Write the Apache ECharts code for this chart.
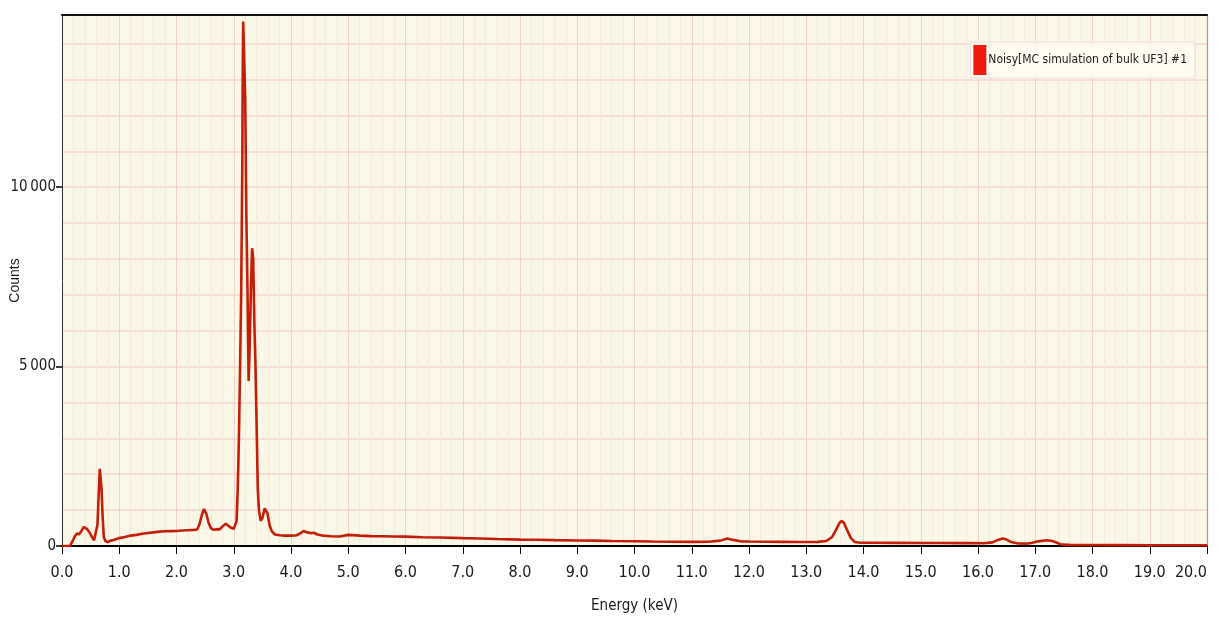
<!DOCTYPE html>
<html>
<head>
<meta charset="utf-8">
<script src="https://cdn.jsdelivr.net/npm/echarts@6/dist/echarts.min.js"></script>
<style>
html,body{margin:0;padding:0;background:#ffffff;}
#chart{width:1219px;height:619px;}
</style>
</head>
<body>
<div id="chart"></div>
<script>
// ---- data ----
const seriesName = 'Noisy[MC simulation of bulk UF3] #1';
const xTitle = 'Energy (keV)';
const yTitle = 'Counts';
const yLabelTicks = [0, 5000, 10000];
const yLabelText = ['0', '5\u2009000', '10\u2009000'];

const energy = [
  0.00,0.10,0.14,0.18,0.22,0.26,0.30,0.34,0.38,0.40,0.44,0.48,0.52,0.56,0.59,0.62,0.64,0.66,0.67,0.69,
  0.71,0.73,0.76,0.80,0.85,0.90,1.00,1.10,1.20,1.30,1.40,1.50,1.60,1.70,1.80,1.90,2.00,2.10,2.20,2.30,
  2.36,2.40,2.44,2.48,2.52,2.56,2.60,2.65,2.70,2.75,2.80,2.86,2.90,2.95,3.00,3.03,3.05,3.07,3.09,3.11,
  3.13,3.14,3.15,3.155,3.165,3.18,3.20,3.22,3.24,3.25,3.26,3.28,3.30,3.32,3.34,3.36,3.38,3.40,3.42,3.44,
  3.47,3.50,3.54,3.56,3.59,3.63,3.67,3.72,3.80,3.90,4.00,4.10,4.16,4.22,4.28,4.34,4.40,4.46,4.55,4.70,
  4.85,5.00,5.20,5.40,5.60,5.80,6.00,6.30,6.60,7.00,7.30,7.60,8.00,8.30,8.60,9.00,9.30,9.60,10.00,10.30,
  10.60,11.00,11.30,11.50,11.62,11.72,11.85,12.00,12.30,12.60,12.90,13.20,13.35,13.45,13.52,13.58,13.62,13.66,13.72,13.78,
  13.85,13.95,14.20,14.60,15.00,15.40,15.80,16.10,16.25,16.35,16.43,16.50,16.58,16.70,16.85,16.95,17.05,17.20,17.30,17.38,
  17.45,17.60,18.00,18.50,19.00,19.50,20.00
];
const counts = [
  0,0,5,120,260,350,330,420,530,540,470,380,260,160,170,600,1400,2150,2170,1600,
  800,250,130,110,150,170,220,250,290,310,340,360,380,400,410,415,420,430,440,450,
  460,600,850,1030,900,650,500,450,470,460,540,620,570,510,480,520,700,1600,3000,4900,
  7100,8900,10700,12800,14620,13700,12500,9200,7200,5800,4600,5600,7200,8300,8000,6200,5000,3300,1600,1000,
  700,780,1050,1100,900,550,400,320,300,290,290,300,350,420,380,360,370,320,290,270,
  265,310,290,275,270,265,260,245,235,220,210,195,178,175,165,155,150,140,132,125,
  120,115,120,150,210,170,130,125,120,115,110,115,140,250,450,640,700,640,420,220,
  110,90,90,88,85,82,80,78,100,170,210,180,110,70,65,90,130,160,140,90,
  40,30,28,25,22,20,20
];

const NARROW = "'Liberation Sans Narrow','Arial Narrow','DejaVu Sans Condensed',sans-serif";
const REG = "'Liberation Sans',Arial,sans-serif";

const points = energy.map((e, i) => [e, counts[i]]);

const chart = echarts.init(document.getElementById('chart'), null, {renderer: 'canvas'});
chart.setOption({
  animation: false,
  backgroundColor: '#ffffff',
  grid: {left: 62, right: 12, top: 15, bottom: 73, show: true, backgroundColor: '#FCF8E8', borderWidth: 0,
         containLabel: false, outerBoundsMode: 'none'},
  legend: {
    data: [{name: seriesName, itemStyle: {color: '#EE1A10'}}],
    right: 24, top: 42,
    icon: 'rect', itemWidth: 13, itemHeight: 30, itemGap: 6,
    backgroundColor: 'rgba(255,252,242,0.85)', borderColor: '#F3DDD6', borderWidth: 1,
    padding: [3, 8, 3, 3],
    textStyle: {fontFamily: NARROW, fontSize: 12, color: '#1a1a1a', padding: [0, 0, 0, -3]}
  },
  xAxis: [
    {
      type: 'value', min: 0, max: 20, interval: 1, position: 'bottom',
      name: xTitle, nameLocation: 'middle', nameGap: 53,
      nameTextStyle: {fontFamily: NARROW, fontSize: 15, color: '#1a1a1a'},
      axisLine: {show: true, onZero: false, lineStyle: {color: '#000', width: 2}},
      axisTick: {show: true, length: 8, lineStyle: {color: '#000', width: 1}},
      axisLabel: {fontFamily: NARROW, fontSize: 16, color: '#1a1a1a', margin: 19,
        alignMaxLabel: 'right', formatter: v => v.toFixed(1)},
      splitLine: {show: true, lineStyle: {color: '#F3D2CA', width: 1}},
      minorTick: {show: false, splitNumber: 5},
      minorSplitLine: {show: true, lineStyle: {color: '#F7E8DE', width: 1}}
    },
    {
      type: 'value', min: 0, max: 20, position: 'top',
      axisLine: {show: true, onZero: false, lineStyle: {color: '#111', width: 2}},
      axisTick: {show: false}, axisLabel: {show: false}, splitLine: {show: false}
    }
  ],
  yAxis: [
    {
      type: 'value', min: 0, max: 14800, interval: 1000, position: 'left',
      name: yTitle, nameLocation: 'middle', nameGap: 40,
      nameTextStyle: {fontFamily: REG, fontSize: 14, color: '#1a1a1a'},
      axisLine: {show: true, onZero: false, lineStyle: {color: '#333', width: 1}},
      axisTick: {show: false}, axisLabel: {show: false},
      splitLine: {show: true, lineStyle: {color: '#F6D6CF', width: 1.6}}
    },
    {
      type: 'value', min: 0, max: 14800, interval: 5000, position: 'left',
      axisLine: {show: false},
      axisTick: {show: true, length: 6, customValues: yLabelTicks, lineStyle: {color: '#000', width: 1.5}},
      axisLabel: {fontFamily: NARROW, fontSize: 15, color: '#1a1a1a', margin: 6, customValues: yLabelTicks,
        formatter: v => { const k = yLabelTicks.indexOf(v); return k >= 0 ? yLabelText[k] : ''; }},
      splitLine: {show: false}
    },
    {
      type: 'value', min: 0, max: 14800, position: 'right',
      axisLine: {show: true, onZero: false, lineStyle: {color: '#9a9a9a', width: 1.2}},
      axisTick: {show: false}, axisLabel: {show: false}, splitLine: {show: false}
    }
  ],
  series: [{
    name: seriesName, type: 'line', xAxisIndex: 0, yAxisIndex: 0,
    data: points, showSymbol: false, symbol: 'none',
    lineStyle: {color: '#C21E08', width: 2.6},
    itemStyle: {color: '#C21E08'},
    z: 5
  }]
});
</script>
</body>
</html>
